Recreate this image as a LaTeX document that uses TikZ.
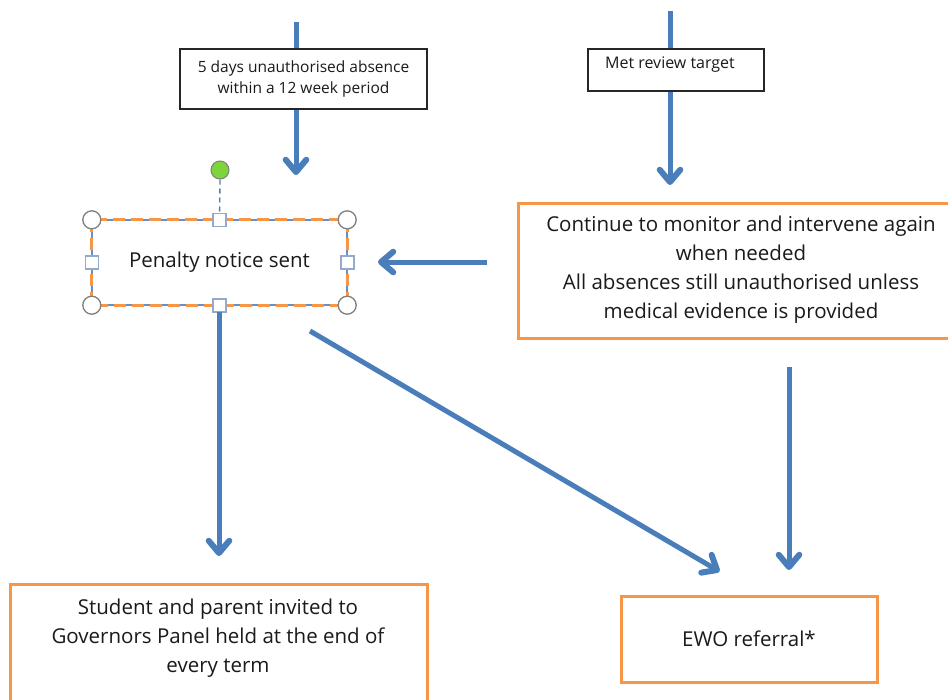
\documentclass[tikz,border=0pt]{standalone}
\usepackage{fontspec}
\setmainfont{Open Sans}
\usetikzlibrary{calc}
\definecolor{arrowblue}{HTML}{4A7EBB}
\definecolor{boxorange}{HTML}{F79646}
\definecolor{handlegray}{HTML}{7F7F7F}
\definecolor{handleblue}{HTML}{95AACB}
\definecolor{handlegreen}{HTML}{7ED43B}
\definecolor{textdark}{HTML}{1A1A1A}
\newcommand{\flowarrow}[2]{%
  \draw[flowline] (#1) -- (#2);
  \draw[flowbarb] ($(#2)!16pt!40:(#1)$) -- (#2) -- ($(#2)!16pt!-40:(#1)$);}
\begin{document}
\begin{tikzpicture}[x=1pt,y=-1pt,
  flowline/.style={draw=arrowblue, line width=5pt, line cap=butt},
  flowbarb/.style={draw=arrowblue, line width=6pt, line cap=round, line join=round},
  smallbox/.style={draw=black!85, line width=1.8pt, fill=white, inner sep=0pt, align=center, text=textdark},
  orangebox/.style={draw=boxorange, line width=3pt, fill=white, inner sep=0pt},
  bigtext/.style={align=center, text=textdark, font=\fontsize{20.5}{29}\selectfont, inner sep=0pt},
  cornerhandle/.style={circle, draw=handlegray, fill=white, line width=1.3pt, minimum size=18pt, inner sep=0pt},
  sidehandle/.style={rectangle, draw=handleblue, fill=white, line width=1.6pt, minimum size=13pt, inner sep=0pt},
]
\useasboundingbox (0,0) rectangle (948,699);
\clip (0,0) rectangle (948,699);

% coordinates for free arrow ends
\coordinate (a1s) at (296,22);
\coordinate (a1e) at (296,172);
\coordinate (a2s) at (670,11);
\coordinate (a2e) at (670,182);
\coordinate (a3s) at (487,262);
\coordinate (a3e) at (381,262);
\coordinate (a4s) at (219,312);
\coordinate (a4e) at (219,553);
\coordinate (a5s) at (310,331);
\coordinate (a5e) at (717,570);
\coordinate (a6s) at (789,367);
\coordinate (a6e) at (789,567);

% top arrows (behind small boxes)
\flowarrow{a1s}{a1e}
\flowarrow{a2s}{a2e}

% small boxes
\node[smallbox, minimum width=247pt, minimum height=60pt, font=\fontsize{15.5}{21}\selectfont] (five) at (303.5,79) {5 days unauthorised absence\\within a 12 week period};
\node[smallbox, minimum width=176pt, minimum height=42pt] (metbox) at (676,70) {};
\node[text=textdark, font=\fontsize{16}{18}\selectfont, inner sep=0pt] (mettext) at (670,65) {Met review target};

% penalty notice box (selected shape)
\node[minimum width=255pt, minimum height=85pt, inner sep=0pt] (pen) at (219.5,262.5) {};
\draw[draw=arrowblue!85, line width=2.4pt] (pen.north west) rectangle (pen.south east);
\draw[draw=boxorange, line width=3pt, dash pattern=on 12pt off 6pt] (pen.north west) rectangle (pen.south east);
\node[bigtext] (pentext) at (pen.center) {Penalty notice sent};
\node[circle, draw=handlegray, fill=handlegreen, line width=1pt, minimum size=18pt, inner sep=0pt] (rot) at (220,170) {};
\draw[draw=arrowblue, line width=1.4pt, dash pattern=on 5pt off 4pt] (rot.south) -- ([yshift=-6.5pt]pen.north);
\foreach \c in {north west, north east, south west, south east}
  \node[cornerhandle] at (pen.\c) {};
\foreach \c in {north, south, west, east}
  \node[sidehandle] at (pen.\c) {};

% continue box
\node[orangebox, minimum width=444pt, minimum height=135pt] (cont) at (740,270.5) {};
\node[bigtext] (conttext) at (741,270) {Continue to monitor and intervene again\\when needed\\All absences still unauthorised unless\\medical evidence is provided};

% bottom boxes
\node[orangebox, minimum width=417pt, minimum height=130pt] (stud) at (218.5,649) {};
\node[bigtext] (studtext) at (218,638) {Student and parent invited to\\Governors Panel held at the end of\\every term};
\node[orangebox, minimum width=256pt, minimum height=86pt] (ewo) at (749,639) {};
\node[bigtext] (ewotext) at (ewo.center) {EWO referral*};

% remaining arrows
\flowarrow{a3s}{a3e}
\flowarrow{a4s}{a4e}
\flowarrow{a5s}{a5e}
\flowarrow{a6s}{a6e}
\end{tikzpicture}
\end{document}
